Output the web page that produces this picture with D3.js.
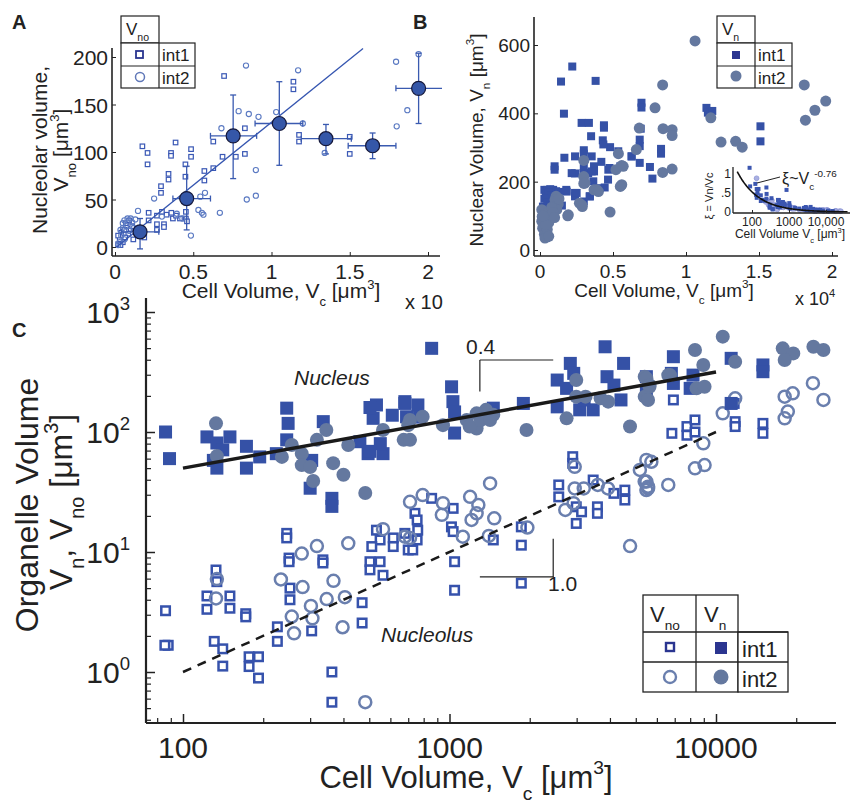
<!DOCTYPE html>
<html>
<head>
<meta charset="utf-8">
<script src="https://cdn.jsdelivr.net/npm/d3@7"></script>
<style>
  body { margin: 0; background: #fff; }
  text { font-family: "Liberation Sans", Arial, sans-serif; fill: #222; }
</style>
</head>
<body>
<svg id="fig" width="859" height="805"></svg>
<script>
// ---------- data ----------
// panel A: nucleolar volume vs cell volume (x in 10^4 um^3)
const aInt1 = [[0.697,180],[1.14,174],[1.14,166],[0.175,106],[0.208,99],[0.208,87],[0.358,99],[0.358,96],[0.387,110],[0.486,103],[0.486,95],[0.45,87],[0.45,74],[0.342,77],[0.342,71],[0.294,64],[0.294,57],[0.571,80],[0.571,70],[0.628,83],[0.628,111],[0.687,95],[0.772,95],[0.83,125],[0.83,98],[1.176,118],[1.176,111],[1.5,116],[1.5,98],[0.215,36],[0.215,28],[0.268,33],[0.268,24],[0.268,18],[0.3,37],[0.313,24],[0.313,21],[0.453,37],[0.453,30],[0.415,30],[0.187,10],[0.117,8],[0.1,19],[0.085,14],[0.065,10],[0.05,5],[0.04,15],[0.03,8],[0.02,3],[0.07,25],[0.09,28],[0.11,22],[0.14,14],[0.33,34],[0.37,30],[0.39,33],[0.46,27],[0.36,36],[0.02,12],[0.035,2],[0.06,18]];
const aInt2 = [[0.837,191],[1.17,186],[1.796,195],[1.94,203],[1.868,144],[1.8,127],[0.79,143],[0.855,140],[0.917,137],[1.03,142],[1.2,130],[1.34,99],[0.68,125],[0.9,81],[0.9,54],[0.842,50],[0.67,36],[0.485,12],[0.575,57],[0.545,53],[0.533,39],[0.555,36],[0.565,34],[0.147,38],[0.1,30],[0.13,29],[0.25,51],[0.395,35],[0.43,30],[0.3,32],[0.06,28],[0.08,30],[0.05,20],[0.04,12],[0.03,5],[0.02,2],[0.06,8],[0.09,17],[0.07,22],[0.11,26],[0.12,20],[0.035,18],[0.05,25]];
const aMeanX = [0.16, 0.458, 0.755, 1.05, 1.348, 1.646, 1.94];
const aMeanY = [16, 51, 117, 130, 114, 106.6, 167];
const aYLo = [-2, 18, 72, 86, 98, 93, 130];
const aYHi = [30, 85, 160, 174, 129, 120, 204];
const aXLo = [0.04, 0.37, 0.61, 0.895, 1.19, 1.49, 1.795];
const aXHi = [0.28, 0.61, 0.905, 1.2, 1.51, 1.795, 2.1];
const aFit = [[0.01, 0], [1.585, 209]];

// panel B: nuclear volume vs cell volume (x in 10^4 um^3)
const bInt1 = [[0.221,537],[0.144,493],[0.381,495],[0.164,399],[0.285,372],[0.335,372],[0.438,365],[0.438,358],[0.35,333],[0.43,321],[0.48,301],[0.69,355],[0.695,431],[0.695,417],[0.683,323],[0.683,304],[0.627,274],[0.683,255],[0.55,245],[0.476,240],[0.466,206],[0.443,183],[0.42,258],[0.37,245],[0.37,230],[0.33,225],[0.3,206],[0.24,224],[0.24,274],[0.3,292],[0.3,282],[0.3,240],[0.3,142],[0.34,157],[0.24,167],[0.24,157],[0.167,270],[0.1,245],[0.1,235],[0.18,176],[0.753,243],[0.77,209],[0.829,296],[0.829,282],[1.14,416],[1.15,402],[1.18,407],[1.51,362],[1.51,318],[0.03,176],[0.05,176],[0.07,178],[0.09,176],[0.11,172],[0.04,165],[0.06,168],[0.08,160],[0.13,170],[0.1,150],[0.03,150],[0.02,127],[0.025,98],[0.02,80],[0.03,57],[0.04,35],[0.05,140],[0.07,130],[0.12,140],[0.15,130],[0.183,171],[0.217,225],[0.297,225],[0.354,230],[0.468,235],[0.536,289],[0.628,274],[0.434,309],[0.365,201],[0.41,181],[0.342,157],[0.251,167],[0.354,274]];
const bInt2 = [[1.062,612],[0.84,483],[1.81,483],[1.957,436],[1.883,409],[1.818,380],[1.24,316],[1.34,318],[1.385,301],[1.17,387],[0.788,416],[0.68,357],[0.843,355],[0.905,352],[0.905,335],[0.905,237],[0.84,227],[0.66,294],[0.537,282],[0.56,247],[0.52,235],[0.56,191],[0.55,186],[0.48,111],[0.37,176],[0.39,176],[0.3,262],[0.3,215],[0.3,195],[0.27,137],[0.29,127],[0.19,100],[0.012,118],[0.015,98],[0.012,84],[0.018,64],[0.03,46],[0.034,35],[0.046,108],[0.055,88],[0.06,80],[0.11,157],[0.125,135],[0.115,118],[0.103,147],[0.08,125],[0.07,100],[0.09,110],[0.05,60],[0.06,40],[0.04,75],[0.02,100],[0.1,95],[0.13,150],[0.57,245],[0.4,171],[0.308,196],[0.285,132],[0.194,103]];

// panel C: log-log, Vn (filled) and Vno (open)
const cNucInt1 = [[86,100],[89,60],[123,91],[150,91],[134,81],[141,71],[130,58],[134,50],[173,76],[173,50],[194,62],[245,158],[248,118],[245,86],[224,66],[336,122],[304,58],[300,34],[362,28],[362,24],[461,83],[495,66],[532,168],[517,130],[563,66],[550,80],[503,160],[610,138],[680,179],[503,69],[857,498],[680,173],[761,168],[690,134],[772,133],[1018,238],[1030,179],[1045,147],[1045,98],[1460,158],[1893,173],[2536,271],[2536,162],[2840,373],[2925,308],[2750,231],[3080,153],[3460,153],[3200,185],[3835,513],[3900,289],[4140,246],[4500,373],[4400,185],[5480,289],[5480,217],[6920,424],[6800,308],[6920,254],[8200,298],[8000,231],[11400,411],[15000,362],[15000,318],[11400,173]];
const cNucInt2 = [[133,118],[134,63],[235,62],[256,78],[279,66],[279,53],[300,51],[308,39],[318,86],[345,104],[366,55],[400,44],[417,78],[483,31],[563,104],[673,86],[700,114],[711,126],[711,86],[793,134],[945,114],[1160,126],[1264,143],[1370,153],[1460,139],[1264,107],[1190,111],[1310,126],[1420,126],[1945,104],[2750,130],[2990,271],[2990,197],[3240,197],[3690,191],[3940,179],[4757,111],[5400,289],[5630,238],[5400,197],[5480,280],[5630,246],[5560,185],[6620,298],[6720,298],[8340,483],[8960,362],[8450,231],[9060,238],[10600,623],[11800,385],[17800,498],[19500,452],[18100,398],[23200,513],[25300,483]];
const cNoInt1 = [[86,3.24],[88,1.67],[85.5,1.67],[133,7.08],[134,5.66],[123,4.3],[150,4.3],[123,3.33],[150,3.4],[172,3.06],[172,2.88],[131,1.8],[141,1.56],[141,1.12],[177,1.34],[192,1.34],[177,1.11],[192,0.89],[245,14.3],[245,13.1],[250,8.9],[250,8.3],[252,5],[252,4],[226,2.38],[226,1.8],[304,2.2],[335,8.6],[335,8.1],[362,1.0],[362,0.56],[470,3.78],[470,2.56],[532,15.2],[549,12.6],[511,11.1],[503,8.3],[549,8.3],[503,7.1],[563,6.4],[615,13.1],[615,11.1],[700,10.4],[742,21],[756,18.5],[680,14.3],[760,15.2],[756,12.6],[728,10.4],[857,28],[1032,23.1],[1017,16.2],[1032,14.8],[1045,8.3],[1045,4.8],[1460,12.6],[1860,16.2],[1860,11.4],[1860,5.5],[2900,62.3],[2900,54.8],[2570,36.2],[2570,28.8],[2990,23.8],[3130,21.6],[2990,17.3],[3460,39.8],[3590,23.8],[3590,21],[4140,30.8],[4550,32.8],[4550,27.1],[6920,185],[6830,97.5],[7780,111],[7780,94],[8340,126],[8340,100],[11700,173],[11800,122],[11800,111],[15000,118],[15000,97.5]];
const cNoInt2 = [[134,5.95],[133,4.1],[233,5.9],[279,9.7],[318,11.2],[281,5.1],[256,2.9],[261,2.1],[302,3.55],[306,2.8],[346,4.05],[367,5.75],[405,4.2],[397,2.36],[417,11.8],[483,0.56],[563,15.5],[680,13.4],[711,26.2],[793,29.8],[936,20.4],[945,25.5],[711,13.1],[1195,28.8],[1283,24.7],[1264,21],[1210,18.5],[1122,13.4],[1472,19.1],[1405,13.6],[1420,37.3],[1960,16],[2950,51.3],[2950,33.9],[3190,33.9],[3600,36.2],[3930,33.9],[2720,22.4],[2920,25.5],[4760,11.2],[5180,48.3],[5480,38.6],[5560,33.9],[5480,58.5],[5720,56.5],[5400,38.6],[5560,35],[5480,32.8],[6620,36.2],[8960,80.5],[8340,49.8],[9060,53],[10600,143],[11800,191],[18100,197],[19400,210],[18600,148],[18100,130],[23100,255],[25300,185]];
const cFitNuc = [[100,50],[10000,316]];
const cFitNo = [[100,1],[10000,100]];
const cTicksX = [100, 1000, 10000];
const cTicksY = [1, 10, 100, 1000];

// inset: xi = Vn/Vc, fit exponent
const insetExp = -0.76;
const insetCoef = 17.5;

// ---------- style ----------
const colSq = '#3551a6', colCi = '#64789f';
const colOpenSq = '#3652ac', colOpenCi = '#6a7fae';
const svg = d3.select('#fig');

function rich(g, x, y, parts, fs, opts) {
  opts = opts || {};
  const t = g.append('text').attr('x', x).attr('y', y).attr('font-size', fs);
  if (opts.anchor) t.attr('text-anchor', opts.anchor);
  if (opts.rotate) t.attr('transform', `rotate(-90,${x},${y})`);
  if (opts.italic) t.attr('font-style', 'italic');
  if (opts.weight) t.attr('font-weight', opts.weight);
  let cur = 0;
  parts.forEach(p => {
    const txt = Array.isArray(p) ? p[0] : p;
    const kind = Array.isArray(p) ? p[1] : 'n';
    const off = kind === 'sub' ? fs * 0.38 : kind === 'sup' ? -fs * 0.45 : 0;
    const ts = t.append('tspan').attr('dy', off - cur).text(txt);
    if (kind !== 'n') ts.attr('font-size', fs * 0.62);
    cur = off;
  });
  return t;
}
function squares(g, data, xs, ys, size, fill, stroke, sw) {
  g.append('g').selectAll('rect').data(data).join('rect')
    .attr('x', d => xs(d[0]) - size / 2).attr('y', d => ys(d[1]) - size / 2)
    .attr('width', size).attr('height', size)
    .attr('fill', fill).attr('stroke', stroke || 'none').attr('stroke-width', sw || 0);
}
function dots(g, data, xs, ys, r, fill, stroke, sw) {
  g.append('g').selectAll('circle').data(data).join('circle')
    .attr('cx', d => xs(d[0])).attr('cy', d => ys(d[1])).attr('r', r)
    .attr('fill', fill).attr('stroke', stroke || 'none').attr('stroke-width', sw || 0);
}
function line(g, x1, y1, x2, y2, w, col, dash) {
  const l = g.append('line').attr('x1', x1).attr('y1', y1).attr('x2', x2).attr('y2', y2)
    .attr('stroke', col || '#222').attr('stroke-width', w);
  if (dash) l.attr('stroke-dasharray', dash);
  return l;
}
function cleanAxis(g) { g.select('.domain').remove(); g.selectAll('text').remove(); }

// panel letters
rich(svg, 12, 29, ['A'], 20, {weight: 'bold'});
rich(svg, 413, 29, ['B'], 20, {weight: 'bold'});
rich(svg, 12, 337, ['C'], 20, {weight: 'bold'});

// ================= Panel A =================
const gA = svg.append('g');
const xA = d3.scaleLinear().domain([0, 2]).range([115, 428]);
const yA = d3.scaleLinear().domain([0, 200]).range([247, 57]);
gA.append('g').attr('transform', 'translate(0,256)').attr('color', '#222')
  .call(d3.axisBottom(xA).tickValues([0, 0.5, 1, 1.5, 2]).tickSize(-4)).call(cleanAxis);
gA.append('g').attr('transform', 'translate(112,0)').attr('color', '#222')
  .call(d3.axisLeft(yA).tickValues([0, 50, 100, 150, 200]).tickSize(-4)).call(cleanAxis);
line(gA, 112, 256, 440, 256, 1.6);
line(gA, 112, 256, 112, 48, 1.6);
[0, 50, 100, 150, 200].forEach(v => rich(gA, 108, yA(v) + 8, [String(v)], 21, {anchor: 'end'}));
[0, 0.5, 1, 1.5, 2].forEach(v => rich(gA, xA(v), 279, [String(v)], 21, {anchor: 'middle'}));
rich(gA, 281, 298, ['Cell Volume, V', ['c', 'sub'], ' [\u03bcm', ['3', 'sup'], ']'], 21, {anchor: 'middle'});
rich(gA, 405, 309, ['x 10'], 20);
rich(gA, 47, 150, ['Nucleolar volume,'], 21, {anchor: 'middle', rotate: true});
rich(gA, 68, 150, ['V', ['no', 'sub'], ' [\u03bcm', ['3', 'sup'], ']'], 21, {anchor: 'middle', rotate: true});

squares(gA, aInt1, xA, yA, 4.5, '#fff', '#3a58b5', 1.2);
dots(gA, aInt2, xA, yA, 2.6, 'none', '#5a79c2', 1.1);
line(gA, xA(aFit[0][0]), yA(aFit[0][1]), xA(aFit[1][0]), yA(aFit[1][1]), 1.3, '#3555b0');
const gErr = gA.append('g').attr('stroke', '#3a5ab0').attr('stroke-width', 1.3);
aMeanX.forEach((mx, i) => {
  const cx = xA(mx), cy = yA(aMeanY[i]);
  line(gErr, cx, yA(aYLo[i]), cx, yA(aYHi[i]), 1.3, '#3a5ab0');
  line(gErr, cx - 3, yA(aYLo[i]), cx + 3, yA(aYLo[i]), 1.3, '#3a5ab0');
  line(gErr, cx - 3, yA(aYHi[i]), cx + 3, yA(aYHi[i]), 1.3, '#3a5ab0');
  line(gErr, xA(aXLo[i]), cy, Math.min(xA(aXHi[i]), 442), cy, 1.3, '#3a5ab0');
  line(gErr, xA(aXLo[i]), cy - 3, xA(aXLo[i]), cy + 3, 1.3, '#3a5ab0');
  if (xA(aXHi[i]) < 442) line(gErr, xA(aXHi[i]), cy - 3, xA(aXHi[i]), cy + 3, 1.3, '#3a5ab0');
});
dots(gA, aMeanX.map((x, i) => [x, aMeanY[i]]), xA, yA, 7, '#3557a8', '#15183a', 1.2);

// legend A
const lgA = gA.append('g').attr('fill', 'none').attr('stroke', '#222').attr('stroke-width', 1.2);
lgA.append('rect').attr('x', 121).attr('y', 16).attr('width', 38).attr('height', 27).attr('fill', '#fff');
lgA.append('rect').attr('x', 121).attr('y', 43).attr('width', 74).attr('height', 45).attr('fill', '#fff');
line(lgA, 121, 66, 195, 66, 1.2);
line(lgA, 159, 43, 159, 88, 1.2);
rich(gA, 126, 35, ['V', ['no', 'sub']], 17);
gA.append('rect').attr('x', 136).attr('y', 51).attr('width', 7).attr('height', 7).attr('fill', '#fff').attr('stroke', '#2a3590').attr('stroke-width', 1.8);
gA.append('circle').attr('cx', 140).attr('cy', 77).attr('r', 4.5).attr('fill', 'none').attr('stroke', '#6078b8').attr('stroke-width', 1.5);
rich(gA, 162, 61, ['int1'], 17);
rich(gA, 162, 84, ['int2'], 17);

// ================= Panel B =================
const gB = svg.append('g');
const xB = d3.scaleLinear().domain([0, 2]).range([540, 832]);
const yB = d3.scaleLinear().domain([0, 600]).range([250, 45]);
gB.append('g').attr('transform', 'translate(0,256)').attr('color', '#222')
  .call(d3.axisBottom(xB).tickValues([0, 0.5, 1, 1.5, 2]).tickSize(-4)).call(cleanAxis);
gB.append('g').attr('transform', 'translate(534,0)').attr('color', '#222')
  .call(d3.axisLeft(yB).tickValues([0, 200, 400, 600]).tickSize(-4)).call(cleanAxis);
line(gB, 534, 256, 838, 256, 1.6);
line(gB, 534, 256, 534, 17, 1.6);
[0, 200, 400, 600].forEach(v => rich(gB, 530, yB(v) + 7, [String(v)], 19, {anchor: 'end'}));
[0, 0.5, 1, 1.5, 2].forEach(v => rich(gB, xB(v), 278, [String(v)], 19, {anchor: 'middle'}));
rich(gB, 664, 297, ['Cell Volume, V', ['c', 'sub'], ' [\u03bcm', ['3', 'sup'], ']'], 19, {anchor: 'middle'});
rich(gB, 795, 305, ['x 10', ['4', 'sup']], 18);
rich(gB, 483, 140, ['Nuclear Volume, V', ['n', 'sub'], ' [\u03bcm', ['3', 'sup'], ']'], 19, {anchor: 'middle', rotate: true});

squares(gB, bInt1, xB, yB, 8, colSq);
dots(gB, bInt2, xB, yB, 5.5, colCi);

// legend B
const lgB = gB.append('g').attr('fill', 'none').attr('stroke', '#222').attr('stroke-width', 1.2);
lgB.append('rect').attr('x', 717).attr('y', 16).attr('width', 38).attr('height', 27).attr('fill', '#fff');
lgB.append('rect').attr('x', 717).attr('y', 43).attr('width', 75).attr('height', 45).attr('fill', '#fff');
line(lgB, 717, 66, 792, 66, 1.2);
line(lgB, 755, 43, 755, 88, 1.2);
rich(gB, 722, 35, ['V', ['n', 'sub']], 17);
gB.append('rect').attr('x', 732).attr('y', 51).attr('width', 8).attr('height', 8).attr('fill', '#2b3590');
gB.append('circle').attr('cx', 736).attr('cy', 76).attr('r', 5.5).attr('fill', colCi);
rich(gB, 758, 61, ['int1'], 17);
rich(gB, 758, 84, ['int2'], 17);

// inset
const gI = svg.append('g');
const xI = d3.scaleLog().domain([100, 10000]).range([752, 826]);
const yI = d3.scaleLinear().domain([0, 1]).range([212, 174]);
const insetSq = cNucInt1.map(d => [d[0], d[1] / d[0]]).filter(d => d[1] <= 1.18);
const insetCi = cNucInt2.map(d => [d[0], d[1] / d[0]]).filter(d => d[1] <= 1.18);
dots(gI, insetCi, xI, yI, 2.4, '#aab0e2', '#8d95d4', 0.8);
squares(gI, insetSq, xI, yI, 4, '#3b56b0');
const vGrid = d3.range(Math.log10(40), Math.log10(40000), 0.02).map(l => Math.pow(10, l));
gI.append('path').datum(vGrid.map(v => [v, insetCoef * Math.pow(v, insetExp)]).filter(d => d[1] <= 1.12))
  .attr('fill', 'none').attr('stroke', '#111').attr('stroke-width', 1.6)
  .attr('d', d3.line().x(d => xI(d[0])).y(d => yI(d[1])));
gI.append('g').attr('transform', 'translate(0,213)').attr('color', '#222')
  .call(d3.axisBottom(xI).tickValues([100, 1000, 10000]).tickSize(-3)).call(cleanAxis);
line(gI, 733, 213, 850, 213, 1.3);
line(gI, 733, 213, 733, 167, 1.3);
[[1, '1'], [0.5, '.5'], [0, '0']].forEach(t => rich(gI, 731, yI(t[0]) + 4, [t[1]], 12, {anchor: 'end'}));
[[100, '100'], [1000, '1000'], [10000, '10,000']].forEach(t => rich(gI, xI(t[0]), 226, [t[1]], 12, {anchor: 'middle'}));
rich(gI, 790, 238, ['Cell Volume V', ['c', 'sub'], ' [\u03bcm', ['3', 'sup'], ']'], 12, {anchor: 'middle'});
rich(gI, 713, 196, ['\u03be = Vn/Vc'], 11, {anchor: 'middle', rotate: true});
line(gI, 757, 183, 780, 177, 1);
rich(gI, 782, 184, ['\u03be~V', ['c', 'sub'], ['-0.76', 'sup']], 16);

// ================= Panel C =================
const gC = svg.append('g');
const xC = d3.scaleLog().domain([100, 10000]).range([183, 716]);
const yC = d3.scaleLog().domain([1, 1000]).range([672, 312]);
const minorX = [80, 90, 200, 300, 400, 500, 600, 700, 800, 900, 2000, 3000, 4000, 5000, 6000, 7000, 8000, 9000, 20000];
const minorY = [0.4, 0.5, 0.6, 0.7, 0.8, 0.9, 2, 3, 4, 5, 6, 7, 8, 9, 20, 30, 40, 50, 60, 70, 80, 90, 200, 300, 400, 500, 600, 700, 800, 900];
gC.append('g').attr('transform', 'translate(0,723)').attr('color', '#222').attr('stroke-width', 1.5)
  .call(d3.axisBottom(xC).tickValues(cTicksX).tickSize(-9)).call(cleanAxis);
gC.append('g').attr('transform', 'translate(0,723)').attr('color', '#222').attr('stroke-width', 1.2)
  .call(d3.axisBottom(xC).tickValues(minorX).tickSize(-5)).call(cleanAxis);
gC.append('g').attr('transform', 'translate(146,0)').attr('color', '#222').attr('stroke-width', 1.5)
  .call(d3.axisLeft(yC).tickValues(cTicksY).tickSize(-9)).call(cleanAxis);
gC.append('g').attr('transform', 'translate(146,0)').attr('color', '#222').attr('stroke-width', 1.2)
  .call(d3.axisLeft(yC).tickValues(minorY).tickSize(-5)).call(cleanAxis);
line(gC, 146, 723, 836, 723, 2.2);
line(gC, 146, 723, 146, 298, 2.2);
cTicksY.forEach(v => rich(gC, 130, yC(v) + 11, ['10', [String(Math.round(Math.log10(v))), 'sup']], 30, {anchor: 'end'}));
cTicksX.forEach(v => rich(gC, xC(v), 758, [String(v)], 30, {anchor: 'middle'}));
rich(gC, 466, 788, ['Cell Volume, V', ['c', 'sub'], ' [\u03bcm', ['3', 'sup'], ']'], 31, {anchor: 'middle'});
rich(gC, 38, 505, ['Organelle Volume'], 32, {anchor: 'middle', rotate: true});
rich(gC, 72, 502, ['V', ['n', 'sub'], ', V', ['no', 'sub'], ' [\u03bcm', ['3', 'sup'], ']'], 32, {anchor: 'middle', rotate: true});

squares(gC, cNoInt1, xC, yC, 8.5, '#fff', colOpenSq, 2.5);
dots(gC, cNoInt2, xC, yC, 6, 'none', colOpenCi, 2.5);
squares(gC, cNucInt1, xC, yC, 13, colSq);
dots(gC, cNucInt2, xC, yC, 7, colCi);

gC.append('path').datum(cFitNuc).attr('fill', 'none').attr('stroke', '#1a1a1a').attr('stroke-width', 3.5)
  .attr('d', d3.line().x(d => xC(d[0])).y(d => yC(d[1])));
gC.append('path').datum(cFitNo).attr('fill', 'none').attr('stroke', '#1a1a1a').attr('stroke-width', 2.5)
  .attr('stroke-dasharray', '9,7')
  .attr('d', d3.line().x(d => xC(d[0])).y(d => yC(d[1])));

// slope brackets
line(gC, xC(1300), yC(398), xC(2450), yC(398), 1.2);
line(gC, xC(1300), yC(398), xC(1300), yC(217), 1.2);
rich(gC, 466, 354, ['0.4'], 21);
line(gC, xC(2450), yC(12.9), xC(2450), yC(6.2), 1.2);
line(gC, xC(1300), yC(6.2), xC(2450), yC(6.2), 1.2);
rich(gC, 548, 591, ['1.0'], 21);
rich(gC, 294, 385, ['Nucleus'], 21, {italic: true});
rich(gC, 381, 642, ['Nucleolus'], 21, {italic: true});

// legend C
const lgC = gC.append('g').attr('fill', 'none').attr('stroke', '#222').attr('stroke-width', 1.3);
lgC.append('rect').attr('x', 643).attr('y', 595).attr('width', 95).attr('height', 97).attr('fill', '#fff');
lgC.append('rect').attr('x', 738).attr('y', 632).attr('width', 50).attr('height', 60).attr('fill', '#fff');
line(lgC, 643, 632, 788, 632, 1.3);
line(lgC, 643, 662, 788, 662, 1.3);
line(lgC, 696, 595, 696, 692, 1.3);
rich(gC, 650, 622, ['V', ['no', 'sub']], 22);
rich(gC, 704, 622, ['V', ['n', 'sub']], 22);
gC.append('rect').attr('x', 666).attr('y', 643).attr('width', 8).attr('height', 8).attr('fill', '#fff').attr('stroke', '#2a3590').attr('stroke-width', 2.4);
gC.append('rect').attr('x', 715).attr('y', 642).attr('width', 12).attr('height', 12).attr('fill', '#2b3590');
gC.append('circle').attr('cx', 670).attr('cy', 677).attr('r', 6).attr('fill', 'none').attr('stroke', colOpenCi).attr('stroke-width', 2.4);
gC.append('circle').attr('cx', 721).attr('cy', 677).attr('r', 7.5).attr('fill', colCi);
rich(gC, 742, 657, ['int1'], 22);
rich(gC, 742, 687, ['int2'], 22);
</script>
</body>
</html>
